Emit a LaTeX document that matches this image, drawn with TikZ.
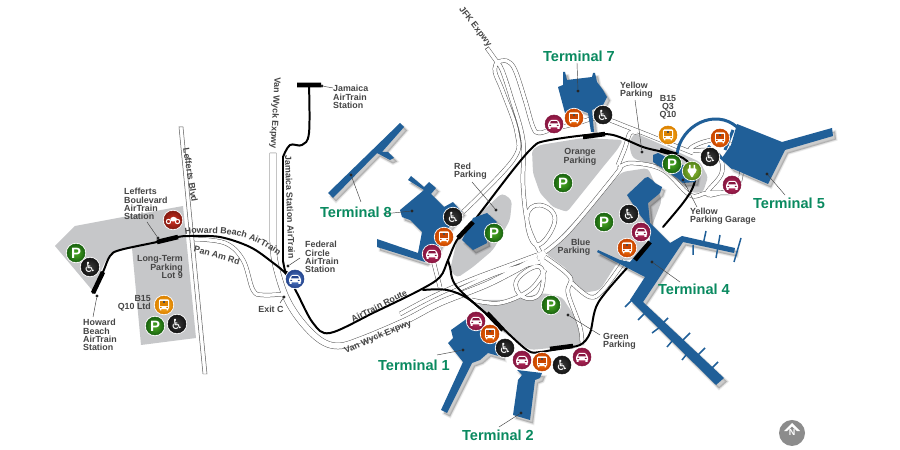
\documentclass[tikz,border=0pt]{standalone}
\usepackage{fontspec}
\setmainfont{Liberation Sans}
\newfontfamily\wcfont{DejaVu Sans}
\usetikzlibrary{decorations.text}
\definecolor{tblue}{HTML}{205F98}
\definecolor{lot}{HTML}{C6C7C9}
\definecolor{lbl}{HTML}{454545}
\definecolor{tgreen}{HTML}{0A8A60}
\definecolor{pA}{HTML}{4BAA22}\definecolor{pB}{HTML}{1A6410}
\definecolor{wA}{HTML}{3A3A3A}\definecolor{wB}{HTML}{151515}
\definecolor{bA}{HTML}{FF7A08}\definecolor{bB}{HTML}{C84500}
\definecolor{yA}{HTML}{FFB428}\definecolor{yB}{HTML}{DC8200}
\definecolor{cA}{HTML}{BE2C5E}\definecolor{cB}{HTML}{861640}
\definecolor{mA}{HTML}{D23222}\definecolor{mB}{HTML}{861A10}
\definecolor{fA}{HTML}{5A82CC}\definecolor{fB}{HTML}{24458E}
\definecolor{gA}{HTML}{94C038}\definecolor{gB}{HTML}{55851A}
\newcommand\busglyph[1]{%
 \begin{scope}[shift={(path picture bounding box.center)}]
 \fill[white,rounded corners=1pt] (-5,-5.5) rectangle (5,4.2);
 \fill[#1] (-3.8,-3.8) rectangle (3.8,0.6);
 \fill[black!70] (-1.2,-3.8) rectangle (1.2,-1.8);
 \fill[white] (-4.2,4) rectangle (-2.6,5.5) (2.6,4) rectangle (4.2,5.5);
 \fill[#1] (-3.8,2) rectangle (-2.4,3) (2.4,2) rectangle (3.8,3);
 \end{scope}}
\newcommand\carglyph[1]{%
 \begin{scope}[shift={(path picture bounding box.center)}]
 \fill[white,rounded corners=1pt] (-6,3.5) -- (-6,0) -- (-3.6,-4) -- (3.6,-4) -- (6,0) -- (6,3.5) -- cycle;
 \fill[#1] (-3,-2.9) -- (3,-2.9) -- (4,-0.6) -- (-4,-0.6) -- cycle;
 \fill[#1] (-4.6,1) rectangle (-2.8,2) (2.8,1) rectangle (4.6,2);
 \fill[white] (-5.5,3) rectangle (-3.4,5) (3.4,3) rectangle (5.5,5);
 \end{scope}}
\tikzset{
 icon/.style 2 args={circle,minimum size=18bp,inner sep=0pt,draw=#2,line width=.5pt,inner color=#1,outer color=#2,preaction={draw=white,line width=2.2pt},text=white},
 iconP/.style={icon={pA}{pB},font=\fontsize{15}{15}\selectfont\bfseries},
 iconW/.style={icon={wA}{wB},font=\wcfont\fontsize{14}{14}\selectfont},
 iconBus/.style={icon={bA}{bB},path picture={\busglyph{bB}}},
 iconYbus/.style={icon={yA}{yB},path picture={\busglyph{yB}}},
 iconCar/.style={icon={cA}{cB},path picture={\carglyph{cB}}},
 iconFed/.style={icon={fA}{fB},path picture={\carglyph{fB}}},
 iconMoto/.style={icon={mA}{mB},path picture={
   \begin{scope}[shift={(path picture bounding box.center)}]
   \draw[white,line width=1pt] (-4.5,1.5) circle (2.2) (4.5,1.5) circle (2.2);
   \fill[white,rounded corners=1pt] (-3,-1) -- (-1,-3) -- (2,-3) -- (4.5,-1) -- (1.5,1.5) -- (-1.5,1.5) -- cycle;
   \end{scope}}},
 iconPlug/.style={icon={gA}{gB},path picture={
   \begin{scope}[shift={(path picture bounding box.center)}]
   \fill[white] (-3,-6) rectangle (-1.5,-2) (1.5,-6) rectangle (3,-2);
   \fill[white,rounded corners=1.2pt] (-4.5,-2.5) -- (4.5,-2.5) -- (4.5,0.5) -- (1.5,3.5) -- (1,6.5) -- (-1,6.5) -- (-1.5,3.5) -- (-4.5,0.5) -- cycle;
   \end{scope}}},
 lab/.style={text=lbl,font=\fontsize{8.9}{8.2}\selectfont\bfseries,inner sep=0pt,align=#1},
 lab/.default=left,
 roadlab/.style={text=lbl,font=\fontsize{8.9}{9}\selectfont\bfseries,inner sep=0pt},
 termlab/.style={text=tgreen,font=\fontsize{14.6}{15}\selectfont\bfseries,inner sep=0pt},
 dotn/.style={circle,fill=black!85,minimum size=3.2bp,inner sep=0pt},
 leader/.style={draw=black!75,line width=.45pt},
 rail/.style={draw=black,line width=2pt,line join=round,line cap=round},
 thickrail/.style={draw=black,line width=4.6pt},
 rdedge/.style={draw=black!65,line width=#1,line join=round},
 rdfill/.style={draw=white,line width=#1,line join=round},
 pier/.style={draw=tblue,line width=1.5pt},
}
% wide road
\newcommand\roadwide{%
 (273,153) -- (273,240)
 plot[smooth,tension=.6] coordinates {(273,240) (275,262) (285,295) (300,320) (320,340) (338,346) (360,340) (405,321) (440,303) (490,283) (537,258)}
}
% narrow roads
\newcommand\roadthin{%
 plot[smooth,tension=.6] coordinates {(193,239) (225,243) (243,260) (253,290) (263,295) (284,294)}
 (487,48) -- (497,62)
 plot[smooth,tension=.6] coordinates {(497,62) (495,72) (503,92) (517,133) (513,160) (463,212)}
 plot[smooth,tension=.6] coordinates {(497,62) (502,70) (511,97) (523,140) (523,185) (528,225) (540,252)}
 plot[smooth,tension=.6] coordinates {(497,62) (507,61) (515,70) (525,100) (533,127) (539,133) (553,129) (575,124) (600,118) (630,128) (668,143) (693,153)}
 plot[smooth,tension=.6] coordinates {(400,314) (432,297) (470,280) (510,265) (537,255)}
 plot[smooth,tension=.6] coordinates {(460,289) (500,272) (540,262)}
 plot[smooth,tension=.6] coordinates {(545,252) (570,230) (617,173) (620,167) (633,163) (663,170) (690,195) (707,193) (733,193)}
 plot[smooth,tension=.6] coordinates {(618,165) (625,148) (630,133) (637,133)}
 plot[smooth cycle,tension=.7] coordinates {(690,150) (707,141) (727,142) (740,160) (738,185) (720,193) (707,193) (722,172) (715,152)}
 plot[smooth cycle,tension=.8] coordinates {(537,245) (527,217) (540,205) (555,220)}
 plot[smooth cycle,tension=.8] coordinates {(540,267) (517,280) (523,297) (540,293)}
 plot[smooth,tension=.6] coordinates {(545,257) (570,277) (568,293) (580,327) (582,345)}
 plot[smooth,tension=.6] coordinates {(572,283) (590,297) (603,290) (625,260)}
 (433,260) -- (440,287)
 plot[smooth,tension=.6] coordinates {(472,300) (500,303) (530,290) (545,270)}
}
% terminals
\newcommand\termshapes{%
 (400,123) -- (404,127) -- (382,152) -- (388,152) -- (394,158) -- (390,160) -- (377,153) -- (333,198) -- (328,193) -- cycle
 (424,190) -- (408,180) -- (411,176) -- (424,187) -- (429,182) -- (436,188) -- (431,194) -- (444,207) -- (453,202) -- (462,212) -- (445,232) -- (435,255) -- (425,262) -- (377,247) -- (377,239) -- (418,253) -- (422,232) -- (410,220) -- (402,217) -- (400,210) -- cycle
 (473,218) -- (487,213) -- (497,222) -- (485,230) -- (487,243) -- (473,250) -- (462,240) -- cycle
 (451,330) -- (472,315) -- (500,347) -- (502,357) -- (488,353) -- (480,360) -- (472,363) -- (447,413) -- (441,410) -- (463,362) -- (448,343) -- (453,338) -- cycle
 (517,370) -- (542,373) -- (540,378) -- (535,380) -- (530,420) -- (513,415) -- (518,380) -- (522,375) -- cycle
 (563,72) -- (565,72) -- (567,80) -- (592,77) -- (593,73) -- (595,73) -- (597,82) -- (603,90) -- (607,97) -- (603,105) -- (592,110) -- (594,132) -- (591,132) -- (588,113) -- (580,110) -- (565,113) -- (558,87) -- (563,85) -- cycle
 (653,155) -- (658,153) -- (697,172) -- (695,182) -- (683,183) -- (677,178) -- (653,162) -- cycle
 (737,124) -- (782,142) -- (832,128) -- (833,136) -- (785,150) -- (768,184) -- (731,168) -- (722,158) -- (731,145) -- cycle
 (627,195) -- (645,178) -- (648,177) -- (652,180) -- (655,183) -- (662,187) -- (660,193) -- (648,203) -- (650,223) -- (670,243) -- (682,236) -- (735,248) -- (734,253) -- (683,242) -- (643,302) -- (724,378) -- (716,385) -- (630,300) -- (645,277) -- (618,263) -- (597,252) -- (598,250) -- (620,260) -- (630,262) -- (640,250) -- (650,240) -- (648,225) -- (640,215) -- cycle
}
\begin{document}
\begin{tikzpicture}[x=1bp,y=-1bp]
\useasboundingbox (0,0) rectangle (900,450);
\fill[white] (0,0) rectangle (900,450);
% parking lots
\fill[lot] (55,246) -- (75,226) -- (123,217) -- (183,206) -- (196,338) -- (141,345) -- (132,248) -- (112,253) -- (105,262) -- (92,290) -- cycle;
\fill[lot,rounded corners=3pt] (532,150) -- (540,145) -- (583,138) -- (623,140) -- (617,150) -- (603,167) -- (567,212) -- (553,207) -- (540,193) -- (533,173) -- cycle;
\fill[lot,rounded corners=4pt] (502,193) -- (512,200) -- (510,220) -- (493,250) -- (473,267) -- (457,278) -- (450,270) -- (457,240) -- (473,220) -- cycle;
\fill[lot,rounded corners=4pt] (545,253) -- (597,197) -- (622,172) -- (648,168) -- (662,200) -- (640,257) -- (617,263) -- (600,290) -- (583,293) -- (570,280) -- (568,270) -- cycle;
\fill[lot,rounded corners=4pt] (475,300) -- (513,300) -- (543,293) -- (562,297) -- (577,320) -- (582,345) -- (530,350) -- (500,330) -- cycle;
\fill[lot,rounded corners=3pt] (630,140) -- (635,133) -- (667,147) -- (700,162) -- (708,177) -- (703,192) -- (693,193) -- (663,170) -- (633,158) -- (630,150) -- cycle;
% roads
\draw[rdedge=6.6pt] \roadwide;
\draw[rdedge=4.4pt] \roadthin;
\draw[rdfill=5.6pt] \roadwide;
\draw[rdfill=3.4pt] \roadthin;
\draw[leader] (270,153) -- (276,153) (485.2,49.2) -- (488.8,46.8);
\draw[black!65,line width=.5pt,fill=white] (179,127) -- (183,127) -- (207,374) -- (203,374) -- cycle;
% train
\draw[rail] plot[smooth,tension=.55] coordinates {(93,293) (103,272) (110,256) (120,250) (157,242) (178,237) (190,236) (220,237) (250,247) (272,262) (287,275) (297,293) (313,323) (330,333) (375,312) (420,290) (440,277) (448,260) (457,240) (473,222) (513,170) (533,147) (545,141) (587,135) (613,135) (643,147) (663,152) (683,158) (695,172) (693,187) (683,203) (663,227)};
\draw[rail] plot[smooth,tension=.55] coordinates {(627,268) (598,303) (590,333) (580,345) (562,348) (540,352) (527,350) (497,323) (457,287) (450,267) (448,260)};
\draw[rail] plot[smooth,tension=.55] coordinates {(423,290) (447,290) (470,300) (500,327)};
\draw[rail] plot[smooth,tension=.6] coordinates {(309,85) (309,133) (302,145) (290,145) (283,157)};
\draw[rail] (283,157) -- (283,262) to[out=90,in=-125] (287,272);
% terminals with soft shadow
\begin{scope}[shift={(3,3.5)},black,opacity=.07]
 \filldraw[line width=3pt] \termshapes;
 \filldraw[line width=1.5pt] \termshapes;
 \fill \termshapes;
\end{scope}
\fill[tblue] \termshapes;
\draw[tblue,line width=3pt] (677,154) .. controls (681,125) and (715,108) .. (737,127);
\draw[tblue,line width=3pt] (733,130) -- (725,150);
\draw[tblue,line width=3pt] (708,146) -- (733,168);
\draw[pier] (795,141) -- (794,145) (807,136) -- (806,141) (819,133) -- (818,137)
 (706,231) -- (703,245) (720,235) -- (716,258) (741,238) -- (734,262) (693,245) -- (693,255)
 (625,307) -- (635,297) (638,320) -- (648,310) (652,333) -- (660,327) (667,347) -- (673,340) (682,360) -- (690,350)
 (668,318) -- (662,324) (690,333) -- (682,341) (705,348) -- (697,356) (718,362) -- (710,370);
% thick station bars
\draw[thickrail] (93,293) -- (103,272) (157,242) -- (178,237) (458,238) -- (473,222) (583,137) -- (605,134) (660,150) -- (677,155) (487,313) -- (503,330) (550,349) -- (573,346) (635,260) -- (650,242) (297,85) -- (321,85);
% leader dots
\coordinate (l1) at (147,222); \node[dotn] (d1) at (158,238) {}; \draw[leader] (l1) -- (d1);
\coordinate (l2) at (93,317); \node[dotn] (d2) at (97,296) {}; \draw[leader] (l2) -- (d2);
\coordinate (l3) at (280,303); \node[dotn] (d3) at (284,297) {}; \draw[leader] (l3) -- (d3);
\coordinate (l4) at (300,258); \node[dotn] (d4) at (288,266) {}; \draw[leader] (l4) -- (d4);
\coordinate (l5) at (333,88); \node[dotn] (d5) at (322,86) {}; \draw[leader] (l5) -- (d5);
\coordinate (l6) at (361,202); \node[dotn] (d6) at (351,175) {}; \draw[leader] (l6) -- (d6);
\coordinate (l7) at (383,214); \node[dotn] (d7) at (412,211) {}; \draw[leader] (l7) -- (d7);
\coordinate (l8) at (472,182); \node[dotn] (d8) at (496,210) {}; \draw[leader] (l8) -- (d8);
\coordinate (l9) at (437,355); \node[dotn] (d9) at (463,350) {}; \draw[leader] (l9) -- (d9);
\coordinate (l10) at (499,427); \node[dotn] (d10) at (521,413) {}; \draw[leader] (l10) -- (d10);
\coordinate (l11) at (577,63); \node[dotn] (d11) at (578,91) {}; \draw[leader] (l11) -- (d11);
\coordinate (l12) at (635,100); \node[dotn] (d12) at (642,152) {}; \draw[leader] (l12) -- (d12);
\coordinate (l13) at (697,207); \node[dotn] (d13) at (683,180) {}; \draw[leader] (l13) -- (d13);
\coordinate (l14) at (785,195); \node[dotn] (d14) at (767,174) {}; \draw[leader] (l14) -- (d14);
\coordinate (l15) at (680,282); \node[dotn] (d15) at (652,262) {}; \draw[leader] (l15) -- (d15);
\coordinate (l16) at (600,335); \node[dotn] (d16) at (568,315) {}; \draw[leader] (l16) -- (d16);
% icons
\node[iconP] (p1) at (76,253) {P};
\node[iconW] (w1) at (90,267) {♿};
\node[iconP] (p2) at (155,326) {P};
\node[iconW] (w2) at (177,324) {♿};
\node[iconYbus] (b1) at (164,305) {};
\node[iconMoto] (m1) at (173,220) {};
\node[iconFed] (f1) at (295,279) {};
\node[iconW] (w3) at (453,217) {♿};
\node[iconBus] (b2) at (444,237) {};
\node[iconCar] (c1) at (432,254) {};
\node[iconP] (p3) at (494,233) {P};
\node[iconCar] (c2) at (476,321) {};
\node[iconBus] (b3) at (490,334) {};
\node[iconW] (w4) at (505,348) {♿};
\node[iconCar] (c3) at (522,360) {};
\node[iconBus] (b4) at (542,362) {};
\node[iconW] (w5) at (562,365) {♿};
\node[iconCar] (c4) at (582,357) {};
\node[iconP] (p4) at (551,305) {P};
\node[iconP] (p5) at (563,183) {P};
\node[iconCar] (c5) at (554,124) {};
\node[iconBus] (b5) at (574,118) {};
\node[iconW] (w6) at (603,115) {♿};
\node[iconYbus] (b6) at (668,135) {};
\node[iconP] (p6) at (672,164) {P};
\node[iconPlug] (g1) at (692,171) {};
\node[iconW] (w7) at (710,157) {♿};
\node[iconBus] (b7) at (720,138) {};
\node[iconCar] (c6) at (732,185) {};
\node[iconP] (p7) at (604,222) {P};
\node[iconW] (w8) at (629,214) {♿};
\node[iconCar] (c7) at (641,232) {};
\node[iconBus] (b8) at (627,248) {};
% north
\node[circle,fill=black!45,minimum size=26bp,inner sep=0pt,text=white,font=\fontsize{9}{9}\selectfont\bfseries,text height=6pt,text depth=0pt,yshift=-2pt] (north) at (792,431) {N};
\fill[white] (792,423) -- (800,431) -- (797,431) -- (792,426.5) -- (787,431) -- (784,431) -- cycle;
% labels
\node[lab,anchor=west] (t1) at (124,204) {Lefferts\\Boulevard\\AirTrain\\Station};
\node[lab,anchor=west] (t2) at (83,335) {Howard\\Beach\\AirTrain\\Station};
\node[lab=right,anchor=east] (t3) at (183,267) {Long-Term\\Parking\\Lot 9};
\node[lab=right,anchor=east] (t4) at (151,303) {B15\\Q10 Ltd};
\node[lab,anchor=west] (t5) at (333,97) {Jamaica\\AirTrain\\Station};
\node[lab,anchor=west] (t6) at (305,257) {Federal\\Circle\\AirTrain\\Station};
\node[lab,anchor=west] (t7) at (454,171) {Red\\Parking};
\node[lab=center] (t8) at (580,157) {Orange\\Parking};
\node[lab=right] (t9) at (574,247) {Blue\\Parking};
\node[lab,anchor=west] (t10) at (603,341) {Green\\Parking};
\node[lab,anchor=west] (t11) at (620,90) {Yellow\\Parking};
\node[lab=center] (t12) at (668,107) {B15\\Q3\\Q10};
\node[lab,anchor=west] (t13) at (690,216) {Yellow\\Parking Garage};
\node[lab] (t14) at (271,309) {Exit C};
\node[roadlab,rotate=-81] (r1) at (190.5,175) {Lefferts Blvd};
\node[roadlab,rotate=-16] (r2) at (217,255) {Pan Am Rd};
\node[roadlab,rotate=-88] (r3) at (290,207) {Jamaica Station AirTrain};
\node[roadlab,rotate=-93] (r4) at (275,113) {Van Wyck Expwy};
\node[roadlab,rotate=27] (r5) at (379,306) {AirTrain Route};
\node[roadlab,rotate=23] (r6) at (378,337) {Van Wyck Expwy};
\node[roadlab,rotate=-52] (r7) at (475,27) {JFK Expwy};
\path[decorate,decoration={text along path,text align=center,text={|\fontsize{8.9}{9}\selectfont\bfseries\color{lbl}|Howard Beach AirTrain}}] (183,235) .. controls (225,229) and (255,237) .. (280,257);
\node[termlab] (n8) at (356,212) {Terminal 8};
\node[termlab] (n1) at (414,365) {Terminal 1};
\node[termlab] (n2) at (498,435) {Terminal 2};
\node[termlab] (n7) at (579,56) {Terminal 7};
\node[termlab] (n5) at (789,203) {Terminal 5};
\node[termlab] (n4) at (694,289) {Terminal 4};
\end{tikzpicture}
\end{document}
